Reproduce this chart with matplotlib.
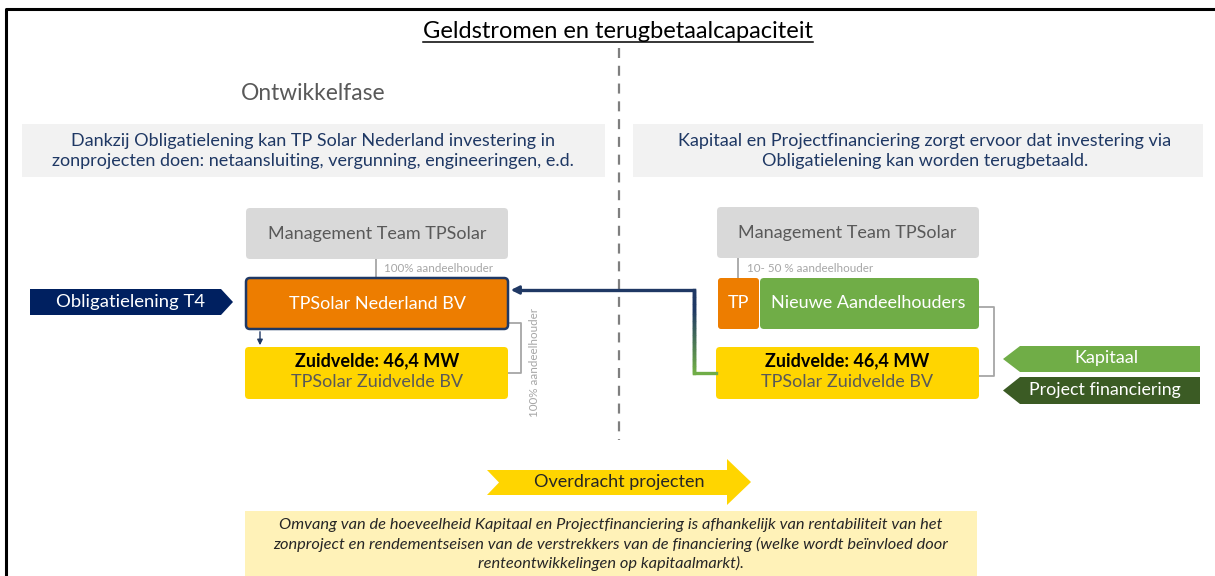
import matplotlib
matplotlib.use("Agg")
import matplotlib.pyplot as plt
from matplotlib.patches import FancyBboxPatch, Polygon
from matplotlib.collections import LineCollection
import numpy as np

# ---------------- content ----------------
title = "Geldstromen en terugbetaalcapaciteit"
phase_label = "Ontwikkelfase"
left_desc = ["Dankzij Obligatielening kan TP Solar Nederland investering in",
             "zonprojecten doen: netaansluiting, vergunning, engineeringen, e.d."]
right_desc = ["Kapitaal en Projectfinanciering zorgt ervoor dat investering via",
              "Obligatielening kan worden terugbetaald."]
mgmt_label = "Management Team TPSolar"
left_holder = "TPSolar Nederland BV"
right_holder_tp = "TP"
right_holder = "Nieuwe Aandeelhouders"
project_title = "Zuidvelde: 46,4 MW"
project_entity = "TPSolar Zuidvelde BV"
share_left = "100% aandeelhouder"
share_right = "10- 50 % aandeelhouder"
share_sub = "100% aandeelhouder"
bond_label = "Obligatielening T4"
funding_labels = ["Kapitaal", "Project financiering"]
transfer_label = "Overdracht projecten"
footnote = ["Omvang van de hoeveelheid Kapitaal en Projectfinanciering is afhankelijk van rentabiliteit van het",
            "zonproject en rendementseisen van de verstrekkers van de financiering (welke wordt beïnvloed door",
            "renteontwikkelingen op kapitaalmarkt)."]

# ---------------- colours ----------------
NAVY = "#1F3864"
DNAVY = "#002060"
ORANGE = "#ED7D00"
GREEN = "#70AD47"
DGREEN = "#3B5B24"
YELLOW = "#FFD500"
LGRAY = "#D9D9D9"
BGRAY = "#F2F2F2"
TGRAY = "#595959"
CGRAY = "#A6A6A6"
CREAM = "#FFF2B8"

FONT = ["Lato", "DejaVu Sans"]
plt.rcParams['font.family'] = FONT
FS = 13

W, H = 1215, 576
fig = plt.figure(figsize=(W / 100, H / 100), dpi=100)
ax = fig.add_axes([0, 0, 1, 1])
ax.set_xlim(0, W)
ax.set_ylim(H, 0)
ax.axis("off")


def rbox(x0, y0, x1, y1, fc, ec="none", lw=0, r=4, z=2):
    p = FancyBboxPatch((x0, y0), x1 - x0, y1 - y0,
                       boxstyle=f"round,pad=0,rounding_size={r}",
                       fc=fc, ec=ec, lw=lw, zorder=z)
    ax.add_patch(p)


def rect(x0, y0, x1, y1, fc, z=1):
    ax.add_patch(plt.Rectangle((x0, y0), x1 - x0, y1 - y0, fc=fc, ec="none", zorder=z))


# outer frame
ax.plot([6, 6, W], [H, 8.5, 8.5], color="black", lw=2.2, zorder=5, solid_capstyle="butt")

# title with underline matched to the text extent
t = ax.text(618, 31, title, ha="center", va="center", fontsize=17, color="black", zorder=6)
fig.canvas.draw()
bb = t.get_window_extent(renderer=fig.canvas.get_renderer())
x_left, x_right = bb.x0, bb.x1
ax.plot([x_left, x_right], [42, 42], color="black", lw=1.1, zorder=6)

# dashed divider
ax.plot([619, 619], [48, 440], color="#7F7F7F", lw=1.6, ls=(0, (4.5, 3.5)), zorder=1)

# phase label
ax.text(313, 93, phase_label, ha="center", va="center", fontsize=16.4, color=TGRAY)

# description boxes
rect(22, 124, 605, 177, BGRAY)
rect(633, 124, 1203, 177, BGRAY)
for i, line in enumerate(left_desc):
    ax.text(313, 141 + i * 20, line, ha="center", va="center", fontsize=FS, color=NAVY)
for i, line in enumerate(right_desc):
    ax.text(925, 141 + i * 20, line, ha="center", va="center", fontsize=FS, color=NAVY)

# ---------- left diagram ----------
rbox(246, 208, 508, 259, LGRAY)
ax.text(377, 234, mgmt_label, ha="center", va="center", fontsize=FS, color=TGRAY, zorder=3)
ax.plot([376, 376], [259, 278], color=CGRAY, lw=1.3, zorder=1)
ax.text(384, 268, share_left, ha="left", va="center", fontsize=8.4, color=CGRAY)

rbox(246, 278, 508, 329, ORANGE, ec=NAVY, lw=1.8)
ax.text(377, 304, left_holder, ha="center", va="center", fontsize=FS, color="white", zorder=3)

rbox(245, 347, 508, 399, YELLOW)
ax.text(377, 361, project_title, ha="center", va="center", fontsize=FS, color="black",
        fontweight="bold", zorder=3)
ax.text(377, 382, project_entity, ha="center", va="center", fontsize=FS, color=TGRAY, zorder=3)

# bracket + rotated label
ax.plot([508, 521, 521, 508], [323, 323, 373, 373], color=CGRAY, lw=1.3, zorder=1)
ax.text(535, 362, share_sub, ha="center", va="center", rotation=90, fontsize=8.4, color=CGRAY)

# small arrow down
ax.annotate("", xy=(260, 348), xytext=(260, 329),
            arrowprops=dict(arrowstyle="-|>", color=NAVY, lw=1.0, mutation_scale=8), zorder=4)

# bond pentagon
ax.add_patch(Polygon([[30, 289], [221, 289], [233, 302], [221, 315], [30, 315]],
                     closed=True, fc=DNAVY, ec="none", zorder=2))
ax.text(130, 302, bond_label, ha="center", va="center", fontsize=13.3, color="white", zorder=3)

# ---------- right diagram ----------
rbox(717, 207, 979, 258, LGRAY)
ax.text(847, 233, mgmt_label, ha="center", va="center", fontsize=FS, color=TGRAY, zorder=3)
ax.plot([738, 738], [258, 278], color=CGRAY, lw=1.3, zorder=1)
ax.text(747, 268, share_right, ha="left", va="center", fontsize=8.4, color=CGRAY)

rbox(718, 278, 759, 329, ORANGE, r=3)
ax.text(738, 303, right_holder_tp, ha="center", va="center", fontsize=FS, color="white", zorder=3)
rbox(760, 278, 979, 329, GREEN)
ax.text(868, 303, right_holder, ha="center", va="center", fontsize=FS, color="white", zorder=3)

rbox(716, 347, 979, 399, YELLOW)
ax.text(847, 361, project_title, ha="center", va="center", fontsize=FS, color="black",
        fontweight="bold", zorder=3)
ax.text(847, 382, project_entity, ha="center", va="center", fontsize=FS, color=TGRAY, zorder=3)

ax.plot([979, 994, 994, 979], [307, 307, 376, 376], color=CGRAY, lw=1.3, zorder=1)

# funding arrows (pointing left)
ax.add_patch(Polygon([[1003, 359], [1020, 346], [1200, 346], [1200, 372], [1020, 372]],
                     closed=True, fc=GREEN, ec="none", zorder=2))
ax.text(1106, 358, funding_labels[0], ha="center", va="center", fontsize=FS, color="white", zorder=3)
ax.add_patch(Polygon([[1003, 390.5], [1020, 377], [1200, 377], [1200, 404], [1020, 404]],
                     closed=True, fc=DGREEN, ec="none", zorder=2))
ax.text(1105, 390, funding_labels[1], ha="center", va="center", fontsize=12.8, color="white", zorder=3)

# repayment line: green bottom -> gradient vertical -> navy top -> arrow into left holder
ax.plot([716, 694], [373, 373], color=GREEN, lw=2.4, zorder=3, solid_capstyle="projecting")
ys = np.linspace(290, 373, 60)
segs = [[(694, ys[i]), (694, ys[i + 1])] for i in range(len(ys) - 1)]
c0 = np.array(matplotlib.colors.to_rgb(NAVY))
c1 = np.array(matplotlib.colors.to_rgb(GREEN))
tt = np.clip((np.linspace(0, 1, len(segs)) - 0.25) / 0.75, 0, 1)
cols = [c0 * (1 - tv) + c1 * tv for tv in tt]
ax.add_collection(LineCollection(segs, colors=cols, lw=2.4, zorder=3, capstyle="projecting"))
ax.plot([694, 518], [290, 290], color=NAVY, lw=2.4, zorder=3, solid_capstyle="projecting")
ax.annotate("", xy=(508, 290), xytext=(522, 290),
            arrowprops=dict(arrowstyle="-|>", color=NAVY, lw=2.0, mutation_scale=12), zorder=4)

# transfer chevron
ax.add_patch(Polygon([[487, 470], [727, 470], [727, 459], [751, 482], [727, 505], [727, 495],
                      [487, 495], [499, 482.5]], closed=True, fc=YELLOW, ec="none", zorder=2))
ax.text(619, 482, transfer_label, ha="center", va="center", fontsize=13, color="#262626", zorder=3)

# footnote box
rect(245, 511, 977, 580, CREAM)
for i, line in enumerate(footnote):
    ax.text(611, 525 + i * 19, line, ha="center", va="center", fontsize=11.8,
            style="italic", color="#262626", zorder=3)

fig.savefig("out.png", dpi=100)
